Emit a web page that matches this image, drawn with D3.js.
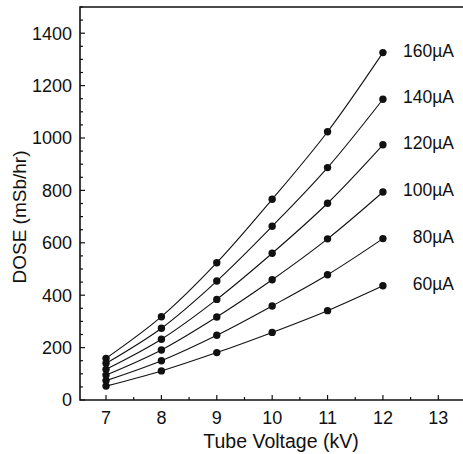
<!DOCTYPE html>
<html>
<head>
<meta charset="utf-8">
<script src="https://cdn.jsdelivr.net/npm/d3@7"></script>
<style>
  body { margin: 0; background: #fff; }
  text { font-family: "Liberation Sans", Arial, sans-serif; fill: #111; }
</style>
</head>
<body>
<svg id="chart"></svg>
<script>
// tube voltage (kV)
const voltages = [7, 8, 9, 10, 11, 12];
const currents = ["160\u00b5A", "140\u00b5A", "120\u00b5A", "100\u00b5A", "80\u00b5A", "60\u00b5A"];
// dose readings, one array per tube current
const dose160 = [159, 318, 524, 766, 1024, 1326];
const dose140 = [140, 274, 454, 663, 887, 1148];
const dose120 = [117, 232, 384, 560, 751, 974];
const dose100 = [95, 191, 317, 459, 615, 794];
const dose80 = [74, 150, 247, 359, 478, 616];
const dose60 = [53, 111, 181, 258, 341, 436];
const xTicks = [7, 8, 9, 10, 11, 12, 13];
const yTicks = [0, 200, 400, 600, 800, 1000, 1200, 1400];

const series = [dose160, dose140, dose120, dose100, dose80, dose60];

const W = 463, H = 454;
const svg = d3.select("#chart").attr("width", W).attr("height", H);

const x = d3.scaleLinear().domain([6.53, 13.5]).range([80, 466]);
const y = d3.scaleLinear().domain([0, 1500]).range([400, 7]);

// frame
svg.append("path")
    .attr("d", `M${x(13.5)},${y(1500)}H${x(6.53)}V${y(0)}H${x(13.5)}`)
    .attr("fill", "none").attr("stroke", "#111").attr("stroke-width", 1.6);

// x axis ticks (inward)
const xMinor = d3.range(7, 13.5, 0.5);
svg.append("g").selectAll("line").data(xMinor).enter().append("line")
    .attr("x1", d => x(d)).attr("x2", d => x(d))
    .attr("y1", y(0)).attr("y2", d => y(0) - (Number.isInteger(d) ? 5 : 3))
    .attr("stroke", "#111").attr("stroke-width", 1.2);
svg.append("g").selectAll("text").data(xTicks).enter().append("text")
    .attr("x", d => x(d)).attr("y", 424)
    .attr("text-anchor", "middle").attr("font-size", 18)
    .text(d => d);

// y axis ticks (inward)
const yMinor = d3.range(0, 1501, 50);
svg.append("g").selectAll("line").data(yMinor).enter().append("line")
    .attr("x1", x(6.53)).attr("x2", d => x(6.53) + (d % 200 === 0 ? 5 : 3))
    .attr("y1", d => y(d)).attr("y2", d => y(d))
    .attr("stroke", "#111").attr("stroke-width", 1.2);
svg.append("g").selectAll("text").data(yTicks).enter().append("text")
    .attr("x", 72).attr("y", d => y(d)).attr("dy", "0.35em")
    .attr("text-anchor", "end").attr("font-size", 18)
    .text(d => d);

// axis titles
svg.append("text").attr("x", 281).attr("y", 448)
    .attr("text-anchor", "middle").attr("font-size", 19.5)
    .text("Tube Voltage (kV)");
svg.append("text")
    .attr("transform", `translate(26,217) rotate(-90)`)
    .attr("text-anchor", "middle").attr("font-size", 19)
    .text("DOSE (mSb/hr)");

// curves and points
const line = d3.line()
    .x((d, i) => x(voltages[i]))
    .y(d => y(d))
    .curve(d3.curveCatmullRom.alpha(0.5));

series.forEach((vals, k) => {
    svg.append("path").datum(vals)
        .attr("d", line)
        .attr("fill", "none").attr("stroke", "#111").attr("stroke-width", 1.1);
    svg.append("g").selectAll("circle").data(vals).enter().append("circle")
        .attr("cx", (d, i) => x(voltages[i]))
        .attr("cy", d => y(d))
        .attr("r", 3.7).attr("fill", "#111");
    svg.append("text")
        .attr("x", 454).attr("y", y(vals[vals.length - 1]) - 2).attr("dy", "0.35em")
        .attr("text-anchor", "end").attr("font-size", 17.5)
        .text(currents[k]);
});
</script>
</body>
</html>
